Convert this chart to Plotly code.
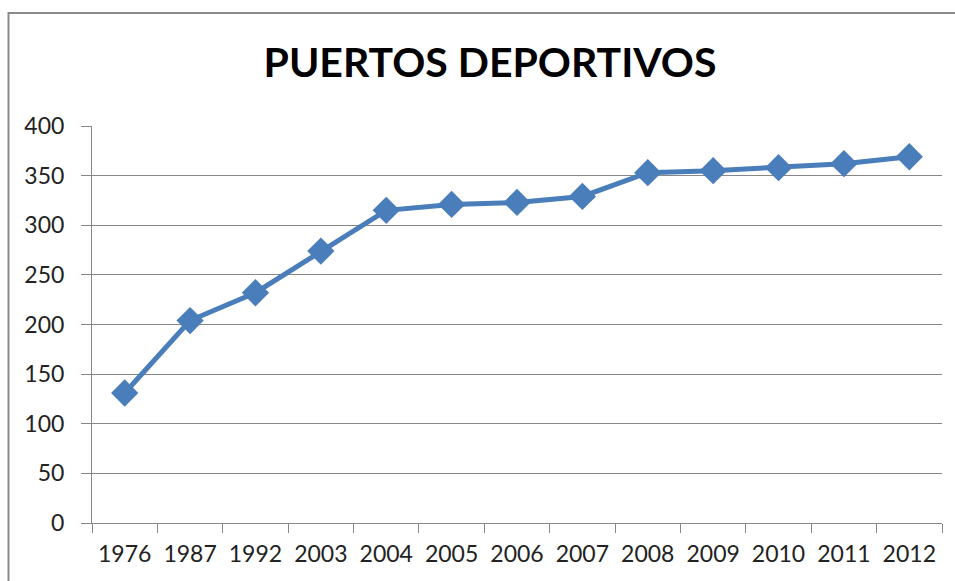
import plotly.graph_objects as go

years = ["1976", "1987", "1992", "2003", "2004", "2005", "2006", "2007", "2008", "2009", "2010", "2011", "2012"]
values = [131, 204, 232, 274, 315, 321, 323, 329, 353, 355, 358, 362, 369]
y_ticks = [0, 50, 100, 150, 200, 250, 300, 350, 400]

W, H = 955, 581
L, R, T, B = 92, 13, 126, 58
pw, ph = W - L - R, H - T - B

fig = go.Figure()
fig.add_trace(go.Scatter(
    x=years, y=values, mode="lines+markers",
    line=dict(color="#4A7EBB", width=5),
    marker=dict(symbol="diamond", size=21, color="#4A7EBB"),
    showlegend=False,
))

grid = "#878787"
fig.update_layout(
    width=W, height=H,
    margin=dict(l=L, r=R, t=T, b=B),
    paper_bgcolor="white", plot_bgcolor="white",
    font=dict(family="Lato, sans-serif", color="#222222"),
    title=dict(text="<b>PUERTOS DEPORTIVOS</b>", x=490 / W, xanchor="center",
               y=1 - 63 / H, yanchor="middle",
               font=dict(size=41, color="black", family="Lato, sans-serif")),
    xaxis=dict(type="category", range=[-0.5, 12.5], showgrid=False,
               showline=True, linecolor=grid, linewidth=1,
               ticks="outside", ticklen=9, tickcolor=grid, tickson="boundaries",
               tickfont=dict(size=23, color="#222222"), ticklabelstandoff=10),
    yaxis=dict(range=[0, 400], tickvals=y_ticks, showgrid=True, gridcolor=grid, gridwidth=1,
               showline=True, linecolor=grid, linewidth=1, zeroline=False,
               ticks="outside", ticklen=10, tickcolor=grid,
               tickfont=dict(size=23, color="#222222"), ticklabelstandoff=12),
)

# outer chart frame (right and bottom edges lie beyond the visible area)
fig.add_shape(type="rect", xref="paper", yref="paper",
              x0=(8.5 - L) / pw, x1=(W + 10 - L) / pw,
              y0=-(B + 20) / ph, y1=(H - 13 - B) / ph,
              line=dict(color="#8A8A8A", width=2), fillcolor="rgba(0,0,0,0)", layer="below")

fig.write_html(
    "out.html",
    config={"displayModeBar": False},
    post_script="document.body.style.margin='0';document.body.style.overflow='hidden';",
)
